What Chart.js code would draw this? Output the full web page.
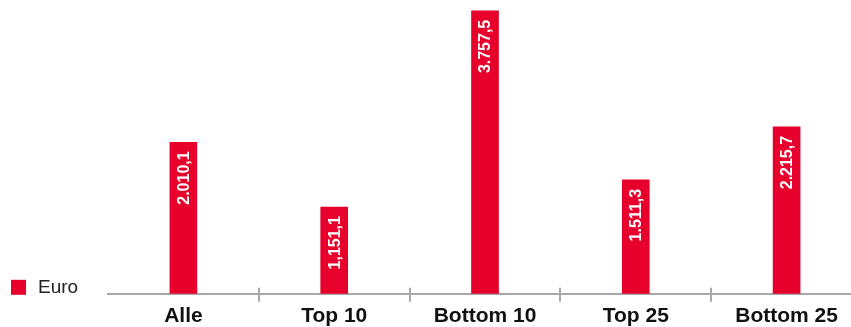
<!DOCTYPE html>
<html>
<head>
<meta charset="utf-8">
<script src="https://cdn.jsdelivr.net/npm/chart.js@4/dist/chart.umd.min.js"></script>
<style>
  html, body { margin: 0; padding: 0; overflow: hidden; background: #fff; }
  #wrap { width: 862px; height: 327px; position: relative; }
</style>
</head>
<body>
<div id="wrap"><canvas id="c"></canvas></div>
<script>
const categories = ['Alle', 'Top 10', 'Bottom 10', 'Top 25', 'Bottom 25'];
const euroValues = [2010.1, 1151.1, 3757.5, 1511.3, 2215.7];
const valueLabels = ['2.010,1', '1,151,1', '3.757,5', '1.511,3', '2.215,7'];
const seriesName = 'Euro';

const BAR_RED = '#e6002b';
const AXIS_GREY = '#a8a8a8';
const FONT = '"Liberation Sans", Arial, Helvetica, sans-serif';

// Vertical value labels inside the top of each bar
const barValueLabels = {
  id: 'barValueLabels',
  afterDatasetsDraw(chart) {
    const ctx = chart.ctx;
    const meta = chart.getDatasetMeta(0);
    ctx.save();
    ctx.fillStyle = '#ffffff';
    ctx.font = 'bold 16px ' + FONT;
    ctx.textAlign = 'right';
    ctx.textBaseline = 'middle';
    meta.data.forEach((bar, i) => {
      ctx.save();
      ctx.translate(bar.x + 1, bar.y + 9);
      ctx.rotate(-Math.PI / 2);
      ctx.fillText(valueLabels[i], 0, 0);
      ctx.restore();
    });
    ctx.restore();
  }
};

// Short tick marks crossing the axis line between categories
const categoryDividers = {
  id: 'categoryDividers',
  afterDraw(chart) {
    const x = chart.scales.x;
    const y0 = chart.chartArea.bottom;
    const ctx = chart.ctx;
    ctx.save();
    ctx.strokeStyle = AXIS_GREY;
    ctx.lineWidth = 2;
    for (let i = 0; i < categories.length - 1; i++) {
      const px = Math.round((x.getPixelForValue(i) + x.getPixelForValue(i + 1)) / 2);
      ctx.beginPath();
      ctx.moveTo(px, y0 - 6);
      ctx.lineTo(px, y0 + 8);
      ctx.stroke();
    }
    ctx.restore();
  }
};

// Legend entry at the lower left, beside the axis
const sideLegend = {
  id: 'sideLegend',
  afterDraw(chart) {
    const ds = chart.data.datasets[0];
    const ctx = chart.ctx;
    const bottom = chart.chartArea.bottom + 1;
    ctx.save();
    ctx.fillStyle = ds.backgroundColor;
    ctx.fillRect(11, bottom - 15, 15, 15);
    ctx.fillStyle = '#222222';
    ctx.font = '19px ' + FONT;
    ctx.textAlign = 'left';
    ctx.textBaseline = 'middle';
    ctx.fillText(ds.label, 38, bottom - 7);
    ctx.restore();
  }
};

new Chart(document.getElementById('c'), {
  type: 'bar',
  data: {
    labels: categories,
    datasets: [{
      label: seriesName,
      data: euroValues,
      backgroundColor: BAR_RED,
      borderWidth: 0,
      barThickness: 27
    }]
  },
  options: {
    responsive: true,
    maintainAspectRatio: false,
    animation: false,
    layout: { padding: { left: 108, right: 0, top: 0, bottom: -12 } },
    plugins: {
      legend: { display: false },
      tooltip: { enabled: false }
    },
    scales: {
      y: {
        display: false,
        min: 0,
        max: 3900
      },
      x: {
        grid: { display: true, drawOnChartArea: false, drawTicks: false },
        border: { display: true, color: AXIS_GREY, width: 2 },
        ticks: {
          color: '#111111',
          padding: 10,
          font: { family: FONT, size: 21, weight: 'bold' }
        }
      }
    }
  },
  plugins: [barValueLabels, categoryDividers, sideLegend]
});
</script>
</body>
</html>
